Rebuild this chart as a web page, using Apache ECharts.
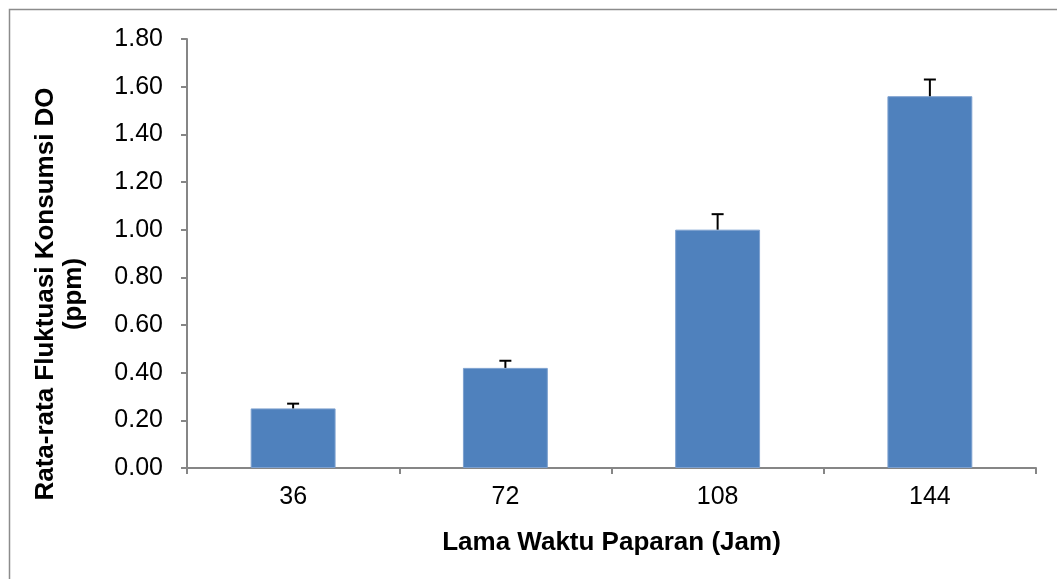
<!DOCTYPE html>
<html>
<head>
<meta charset="utf-8">
<script src="https://cdn.jsdelivr.net/npm/echarts@6/dist/echarts.min.js"></script>
<style>
  html, body { margin: 0; padding: 0; background: #fff; }
  #chart { width: 1057px; height: 579px; }
</style>
</head>
<body>
<div id="chart"></div>
<script>
// Exposure time (hours)
const categories = ['36', '72', '108', '144'];
// Mean DO consumption fluctuation (ppm)
const means = [0.25, 0.42, 1.00, 1.56];
// Upper error (standard deviation, ppm)
const errors = [0.02, 0.03, 0.065, 0.07];
// Value axis ticks
const yMin = 0, yMax = 1.8, yStep = 0.2;

const xTitle = 'Lama Waktu Paparan (Jam)';
const yTitle = 'Rata-rata Fluktuasi Konsumsi DO\n(ppm)';

const FONT = '"Liberation Sans", Arial, sans-serif';
const AXIS_GRAY = '#868686';

const chart = echarts.init(document.getElementById('chart'), null, { renderer: 'canvas' });

const errData = means.map((m, i) => [i, m, m + errors[i]]);

chart.setOption({
  animation: false,
  backgroundColor: '#fff',
  textStyle: { fontFamily: FONT },
  grid: { left: 187, right: 21, top: 39, bottom: 111, containLabel: false },
  xAxis: {
    type: 'category',
    data: categories,
    boundaryGap: true,
    axisLine: { lineStyle: { color: AXIS_GRAY, width: 2 } },
    axisTick: { show: true, length: 6, lineStyle: { color: AXIS_GRAY, width: 2 } },
    axisLabel: { color: '#000', fontSize: 25, fontFamily: FONT, margin: 17 },
    splitLine: { show: false },
    name: xTitle,
    nameLocation: 'middle',
    nameGap: 62,
    nameTextStyle: { color: '#000', fontSize: 26, fontWeight: 'bold', fontFamily: FONT }
  },
  yAxis: {
    type: 'value',
    min: yMin,
    max: yMax,
    interval: yStep,
    axisLine: { show: true, lineStyle: { color: AXIS_GRAY, width: 2 } },
    axisTick: { show: true, length: 6, lineStyle: { color: AXIS_GRAY, width: 2 } },
    axisLabel: {
      color: '#000', fontSize: 25, fontFamily: FONT, margin: 24,
      formatter: v => v.toFixed(2)
    },
    splitLine: { show: false }
  },
  graphic: [
    {
      type: 'rect',
      silent: true,
      shape: { x: 9.5, y: 9.5, width: 1200, height: 800 },
      style: { fill: 'none', stroke: '#8c8c8c', lineWidth: 1.5 },
      z: -1
    },
    {
      type: 'text',
      silent: true,
      x: 60, y: 294,
      rotation: Math.PI / 2,
      style: {
        text: yTitle,
        fill: '#000',
        font: 'bold 26px ' + FONT,
        align: 'center',
        verticalAlign: 'middle',
        lineHeight: 28
      }
    }
  ],
  series: [
    {
      type: 'bar',
      data: means,
      barWidth: '40%',
      itemStyle: { color: '#4F81BD', borderColor: '#7da0cf', borderWidth: 1 },
      z: 2
    },
    {
      type: 'custom',
      data: errData,
      z: 3,
      renderItem: function (params, api) {
        const x = api.value(0);
        const base = api.coord([x, api.value(1)]);
        const top = api.coord([x, api.value(2)]);
        const half = 6;
        return {
          type: 'group',
          children: [
            {
              type: 'line',
              shape: { x1: base[0], y1: base[1], x2: top[0], y2: top[1] },
              style: { stroke: '#000', lineWidth: 2 }
            },
            {
              type: 'line',
              shape: { x1: top[0] - half, y1: top[1], x2: top[0] + half, y2: top[1] },
              style: { stroke: '#000', lineWidth: 2 }
            }
          ]
        };
      }
    }
  ]
});
</script>
</body>
</html>
